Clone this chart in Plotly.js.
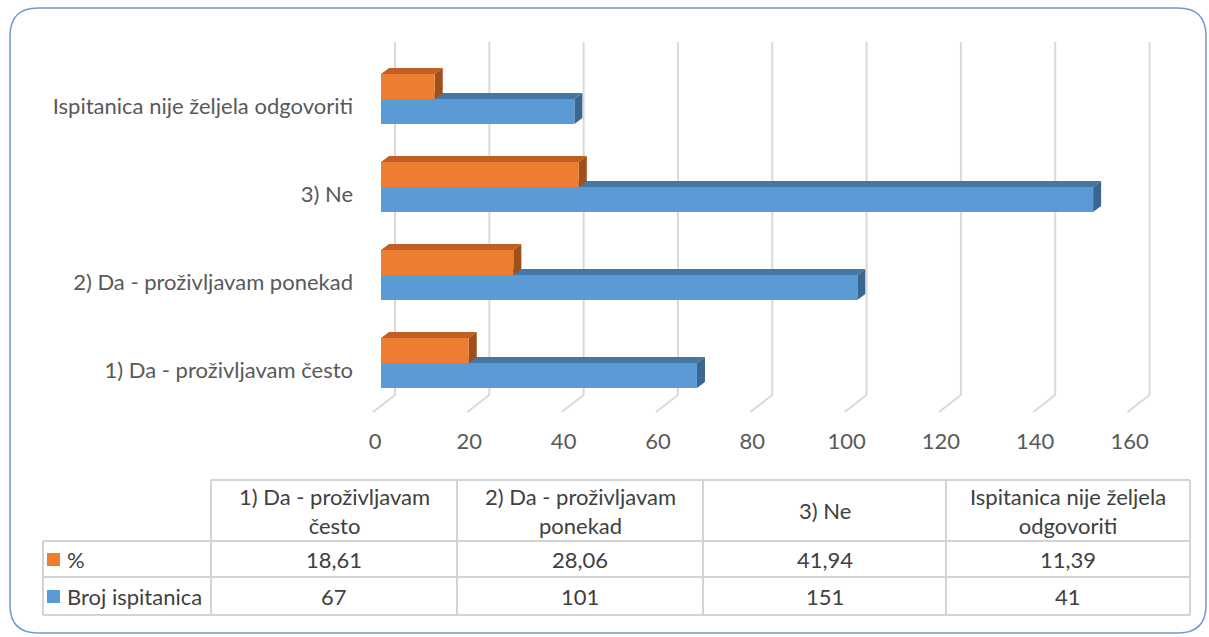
<!DOCTYPE html>
<html>
<head>
<meta charset="utf-8">
<script src="https://cdn.plot.ly/plotly-3.0.1.min.js"></script>
<style>html,body{margin:0;padding:0;background:#fff;}#chart{width:1209px;height:637px;}</style>
</head>
<body>
<div id="chart"></div>
<script>
// ---- data ----
const categories = ["1) Da - proživljavam često", "2) Da - proživljavam ponekad", "3) Ne", "Ispitanica nije željela odgovoriti"];
const seriesNames = ["%", "Broj ispitanica"];
const pctValues = [18.61, 28.06, 41.94, 11.39];
const countValues = [67, 101, 151, 41];
const xTicks = [0, 20, 40, 60, 80, 100, 120, 140, 160];

// ---- geometry / style ----
const FW = 1209, FH = 637;
const L = 360, R = 39, T = 42, B = 225;
const PW = FW - L - R, PH = FH - T - B;
const PX = 4.716;            // pixels per value unit
const CAT = 88;              // pixels per category
const X0PX = 21;             // where value 0 sits from plot left
const Y0PX = 49;             // category 0 centre from plot bottom
const BAR_PX = 25;
const DEPTH_X = 8, DEPTH_Y = 6;
const FONT = "Lato, 'Open Sans', sans-serif";
const FSIZE = 22;
const ORANGE = "#ED7D31", ORANGE_TOP = "#C15F22", ORANGE_SIDE = "#A04E1A";
const BLUE = "#5B9BD5", BLUE_TOP = "#4676A3", BLUE_SIDE = "#3A6690";
const GRID = "#D9D9D9";

const xRange = [-X0PX / PX, (PW - X0PX) / PX];
const yRange = [-Y0PX / CAT, (PH - Y0PX) / CAT];
const barW = BAR_PX / CAT;
const bargap = 1 - 2 * barW;
const dx = DEPTH_X / PX, dy = DEPTH_Y / CAT;
const idx = categories.map((c, i) => i);

const px2x = p => (p - L) / PW;
const px2y = p => (T + PH - p) / PH;

const shapes = [];
// back-wall gridlines and floor diagonals
xTicks.forEach(t => {
  const back = t + 14 / PX, front = t - 8 / PX;
  shapes.push({type: 'line', layer: 'between', xref: 'x', yref: 'paper', x0: back, x1: back, y0: 1, y1: 17 / PH, line: {color: GRID, width: 2}});
  shapes.push({type: 'line', layer: 'between', xref: 'x', yref: 'paper', x0: back, x1: front, y0: 17 / PH, y1: 0, line: {color: GRID, width: 2}});
});
// 3D faces
function faces(values, lowerOffset, topCol, sideCol) {
  values.forEach((v, i) => {
    const yb = i + lowerOffset, yt = yb + barW;
    shapes.push({type: 'path', layer: 'between', xref: 'x', yref: 'y', fillcolor: topCol, line: {width: 0},
      path: `M0,${yt} L${v},${yt} L${v + dx},${yt + dy} L${dx},${yt + dy} Z`});
    shapes.push({type: 'path', layer: 'between', xref: 'x', yref: 'y', fillcolor: sideCol, line: {width: 0},
      path: `M${v},${yb} L${v},${yt} L${v + dx},${yt + dy} L${v + dx},${yb + dy} Z`});
  });
}
faces(countValues, -barW, BLUE_TOP, BLUE_SIDE);
faces(pctValues, 0, ORANGE_TOP, ORANGE_SIDE);

// outer rounded border
(function () {
  const x0 = 10, y0 = 8, x1 = 1206, y1 = 633, r = 28;
  const X = px2x, Y = px2y;
  const p = `M${X(x0 + r)},${Y(y0)} L${X(x1 - r)},${Y(y0)} Q${X(x1)},${Y(y0)} ${X(x1)},${Y(y0 + r)} ` +
            `L${X(x1)},${Y(y1 - r)} Q${X(x1)},${Y(y1)} ${X(x1 - r)},${Y(y1)} ` +
            `L${X(x0 + r)},${Y(y1)} Q${X(x0)},${Y(y1)} ${X(x0)},${Y(y1 - r)} ` +
            `L${X(x0)},${Y(y0 + r)} Q${X(x0)},${Y(y0)} ${X(x0 + r)},${Y(y0)} Z`;
  shapes.push({type: 'path', xref: 'paper', yref: 'paper', path: p, line: {color: '#6C9BD2', width: 1.5}, layer: 'below'});
})();

// ---- data table ----
const colX = [211, 457, 703, 946, 1190];
const tblLeft = 43;
const rowY = [480, 541, 577, 615];
const TGRID = "#D4D4D4";
const annotations = [];
function hline(xa, xb, y) { shapes.push({type: 'line', xref: 'paper', yref: 'paper', x0: px2x(xa), x1: px2x(xb), y0: px2y(y), y1: px2y(y), line: {color: TGRID, width: 2}}); }
function vline(x, ya, yb) { shapes.push({type: 'line', xref: 'paper', yref: 'paper', x0: px2x(x), x1: px2x(x), y0: px2y(ya), y1: px2y(yb), line: {color: TGRID, width: 2}}); }
hline(colX[0], colX[4], rowY[0]);
hline(tblLeft, colX[4], rowY[1]);
hline(tblLeft, colX[4], rowY[2]);
hline(tblLeft, colX[4], rowY[3]);
vline(tblLeft, rowY[1], rowY[3]);
colX.forEach(x => vline(x, rowY[0], rowY[3]));

function wrap(s, maxLen) {
  const words = s.split(' '); const lines = []; let cur = '';
  words.forEach(w => { const t = cur ? cur + ' ' + w : w; if (t.length > maxLen && cur) { lines.push(cur); cur = w; } else cur = t; });
  lines.push(cur); return lines.join('<br>');
}
const tFont = {family: FONT, size: FSIZE, color: '#404040'};
function cellText(text, xa, xb, ya, yb) {
  annotations.push({xref: 'paper', yref: 'paper', x: px2x((xa + xb) / 2), y: px2y((ya + yb) / 2), text: text,
    showarrow: false, xanchor: 'center', yanchor: 'middle', font: tFont});
}
categories.forEach((c, i) => {
  cellText(wrap(c, 23), colX[i], colX[i + 1], rowY[0], rowY[1]);
  cellText(pctValues[i].toFixed(2).replace('.', ','), colX[i], colX[i + 1], rowY[1], rowY[2]);
  cellText(String(countValues[i]), colX[i], colX[i + 1], rowY[2], rowY[3]);
});
[[seriesNames[0], ORANGE, 1], [seriesNames[1], BLUE, 2]].forEach(([name, col, r]) => {
  const cy = (rowY[r] + rowY[r + 1]) / 2;
  shapes.push({type: 'rect', xref: 'paper', yref: 'paper', x0: px2x(47), x1: px2x(60), y0: px2y(cy + 7), y1: px2y(cy - 6), fillcolor: col, line: {width: 0}});
  annotations.push({xref: 'paper', yref: 'paper', x: px2x(65), y: px2y(cy), text: name, showarrow: false, xanchor: 'left', yanchor: 'middle', font: tFont});
});

// ---- traces ----
const traces = [
  {type: 'bar', orientation: 'h', name: seriesNames[1], y: idx, x: countValues, marker: {color: BLUE, line: {width: 0}}, hoverinfo: 'x'},
  {type: 'bar', orientation: 'h', name: seriesNames[0], y: idx, x: pctValues, marker: {color: ORANGE, line: {width: 0}}, hoverinfo: 'x'}
];

const layout = {
  width: FW, height: FH, autosize: false,
  margin: {l: L, r: R, t: T, b: B, pad: 0},
  paper_bgcolor: '#fff', plot_bgcolor: 'rgba(0,0,0,0)',
  showlegend: false,
  barmode: 'group', bargap: bargap, bargroupgap: 0,
  font: {family: FONT, size: FSIZE, color: '#595959'},
  xaxis: {range: xRange, tickmode: 'array', tickvals: xTicks, ticktext: xTicks.map(String),
    showgrid: false, zeroline: false, showline: false, ticks: '', ticklabelshift: -6, ticklabelstandoff: 14,
    tickfont: {family: FONT, size: FSIZE, color: '#595959'}, fixedrange: true},
  yaxis: {range: yRange, tickmode: 'array', tickvals: idx, ticktext: categories,
    showgrid: false, zeroline: false, showline: false, ticks: '', ticklabelshift: 7, ticklabelstandoff: 6,
    tickfont: {family: FONT, size: FSIZE, color: '#595959'}, fixedrange: true},
  shapes: shapes,
  annotations: annotations
};

Plotly.newPlot('chart', traces, layout, {displayModeBar: false, staticPlot: true});
</script>
</body>
</html>
